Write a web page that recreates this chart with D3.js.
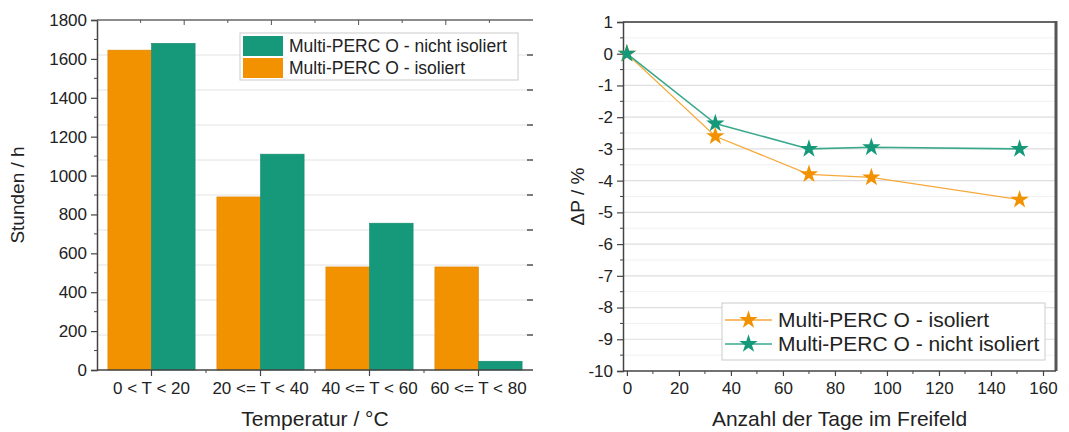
<!DOCTYPE html>
<html><head><meta charset="utf-8">
<script src="https://cdn.jsdelivr.net/npm/d3@7"></script>
<style>
html,body{margin:0;padding:0;background:#fff;}
svg{display:block;font-family:"Liberation Sans",Arial,sans-serif;}
</style></head>
<body>
<svg id="c" width="1069" height="432"></svg>
<script>
// ---------- data ----------
const categories = ["0 < T < 20", "20 <= T < 40", "40 <= T < 60", "60 <= T < 80"];
const hoursIsoliert = [1645, 890, 530, 530];
const hoursNichtIsoliert = [1680, 1110, 755, 45];
const leftYTicks = [0, 200, 400, 600, 800, 1000, 1200, 1400, 1600, 1800];

const days = [0, 34, 70, 94, 151];
const dpIsoliert = [0, -2.6, -3.8, -3.9, -4.6];
const dpNichtIsoliert = [0, -2.2, -3.0, -2.95, -3.0];
const rightXTicks = [0, 20, 40, 60, 80, 100, 120, 140, 160];
const rightYTicks = [1, 0, -1, -2, -3, -4, -5, -6, -7, -8, -9, -10];

const ORANGE = "#f39200", TEAL = "#15997a";
const LINE_OR = "#f6a93a", LINE_TE = "#3aa88c";
const AX = "#444";

const svg = d3.select("#c");

// ================= LEFT CHART =================
const L = {x0: 97, x1: 533, y0: 20, y1: 370};
const xg = d3.scaleBand().domain(categories).range([L.x0, L.x1]).paddingInner(0.2).paddingOuter(0.1);
const xs = d3.scaleBand().domain(["iso", "nicht"]).range([0, xg.bandwidth()]);
const yL = d3.scaleLinear().domain([0, 1800]).range([L.y1, L.y0]);

const gL = svg.append("g");
const gridL = d3.range(180, 1800, 180);
gL.selectAll(".gl").data(gridL).join("line")
  .attr("x1", L.x0).attr("x2", L.x1)
  .attr("y1", d => yL(d)).attr("y2", d => yL(d))
  .attr("stroke", "#e2e2e2").attr("stroke-width", 1);

const series = [
  {key: "iso", vals: hoursIsoliert, color: ORANGE},
  {key: "nicht", vals: hoursNichtIsoliert, color: TEAL}
];
series.forEach(s => {
  gL.selectAll(".b-" + s.key).data(categories).join("rect")
    .attr("x", (c) => xg(c) + xs(s.key))
    .attr("width", xs.bandwidth())
    .attr("y", (c, i) => yL(s.vals[i]))
    .attr("height", (c, i) => yL(0) - yL(s.vals[i]))
    .attr("fill", s.color)
    .attr("stroke", d3.color(s.color).darker(0.3)).attr("stroke-width", 0.6);
});

const yAxisL = d3.axisLeft(yL).tickValues(leftYTicks).tickSize(6).tickPadding(4).tickFormat(d3.format("d"));
const ya = gL.append("g").attr("transform", `translate(${L.x0},0)`).call(yAxisL);
ya.select(".domain").attr("stroke", AX).attr("stroke-width", 1.5);
ya.selectAll(".tick line").attr("stroke", AX).attr("stroke-width", 1.2);
ya.selectAll("text").attr("font-size", 17).attr("fill", "#222").attr("font-family", "Liberation Sans, Arial, sans-serif");
gL.selectAll(".ymin").data(d3.range(100, 1800, 200)).join("line")
  .attr("x1", L.x0 - 3).attr("x2", L.x0).attr("y1", d => yL(d)).attr("y2", d => yL(d))
  .attr("stroke", AX).attr("stroke-width", 1);

const xAxisL = d3.axisBottom(xg).tickSize(6).tickPadding(6);
const xa = gL.append("g").attr("transform", `translate(0,${L.y1})`).call(xAxisL);
xa.select(".domain").attr("stroke", AX).attr("stroke-width", 1.5).attr("d", `M${L.x0},0H${L.x1}`);
xa.selectAll(".tick line").attr("stroke", AX).attr("stroke-width", 1.2);
xa.selectAll("text").attr("font-size", 17).attr("fill", "#222").attr("font-family", "Liberation Sans, Arial, sans-serif");
gL.selectAll(".xmin").data(categories.slice(1)).join("line")
  .attr("x1", c => xg(c) - xg.step() * xg.paddingInner() / 2)
  .attr("x2", c => xg(c) - xg.step() * xg.paddingInner() / 2)
  .attr("y1", L.y1).attr("y2", L.y1 + 3).attr("stroke", AX).attr("stroke-width", 1);

gL.append("line").attr("x1", L.x0).attr("x2", L.x1).attr("y1", L.y0).attr("y2", L.y0)
  .attr("stroke", "#666").attr("stroke-width", 1.5);
gL.selectAll(".tt").data(d3.range(1, 10)).join("line")
  .attr("x1", k => L.x0 + (L.x1 - L.x0) * k / 10).attr("x2", k => L.x0 + (L.x1 - L.x0) * k / 10)
  .attr("y1", L.y0).attr("y2", k => L.y0 + (k % 2 ? 3 : 5)).attr("stroke", "#555").attr("stroke-width", 1);
gL.selectAll(".rt").data(gridL).join("line")
  .attr("x1", L.x1 - 6).attr("x2", L.x1).attr("y1", d => yL(d)).attr("y2", d => yL(d))
  .attr("stroke", "#555").attr("stroke-width", 1.5);

gL.append("text").attr("transform", `translate(24,${(L.y0 + L.y1) / 2}) rotate(-90)`)
  .attr("text-anchor", "middle").attr("font-size", 19).attr("fill", "#222").text("Stunden / h");
gL.append("text").attr("x", (L.x0 + L.x1) / 2).attr("y", 426)
  .attr("text-anchor", "middle").attr("font-size", 21).attr("fill", "#222").text("Temperatur / °C");

const lgL = gL.append("g").attr("transform", "translate(240,33)");
lgL.append("rect").attr("width", 278).attr("height", 47).attr("fill", "#fff").attr("stroke", "#ccc");
const legL = [{label: "Multi-PERC O - nicht isoliert", color: TEAL}, {label: "Multi-PERC O - isoliert", color: ORANGE}];
legL.forEach((d, i) => {
  lgL.append("rect").attr("x", 3).attr("y", 3 + i * 22).attr("width", 40).attr("height", 20).attr("fill", d.color);
  lgL.append("text").attr("x", 49).attr("y", 19 + i * 22).attr("font-size", 17.5).attr("fill", "#222").text(d.label);
});

// ================= RIGHT CHART =================
const R = {x0: 623, x1: 1056, y0: 22, y1: 371};
const xR = d3.scaleLinear().domain([-1.5, 165]).range([R.x0, R.x1]);
const yR = d3.scaleLinear().domain([-10, 1]).range([R.y1, R.y0]);
const gR = svg.append("g");

gR.selectAll(".gmin").data(d3.range(-9.5, 1, 1)).join("line")
  .attr("x1", R.x0).attr("x2", R.x1).attr("y1", d => yR(d)).attr("y2", d => yR(d))
  .attr("stroke", "#f1f1f1").attr("stroke-width", 1);
gR.selectAll(".gmaj").data(d3.range(-9, 1, 1)).join("line")
  .attr("x1", R.x0).attr("x2", R.x1).attr("y1", d => yR(d)).attr("y2", d => yR(d))
  .attr("stroke", "#dedede").attr("stroke-width", 1.2);

gR.append("line").attr("x1", R.x0).attr("x2", R.x1).attr("y1", R.y0).attr("y2", R.y0)
  .attr("stroke", "#666").attr("stroke-width", 2);
gR.append("line").attr("x1", R.x1).attr("x2", R.x1).attr("y1", R.y0 - 1).attr("y2", R.y1)
  .attr("stroke", "#555").attr("stroke-width", 3);

const yAxisR = d3.axisLeft(yR).tickValues(rightYTicks).tickSize(6).tickPadding(4).tickFormat(d => String(d).replace("−", "-"));
const yra = gR.append("g").attr("transform", `translate(${R.x0},0)`).call(yAxisR);
yra.select(".domain").attr("stroke", AX).attr("stroke-width", 1.5);
yra.selectAll(".tick line").attr("stroke", AX).attr("stroke-width", 1.2);
yra.selectAll("text").attr("font-size", 17).attr("fill", "#222").attr("font-family", "Liberation Sans, Arial, sans-serif");
gR.selectAll(".yrmin").data(d3.range(-9.5, 1, 1)).join("line")
  .attr("x1", R.x0 - 3).attr("x2", R.x0).attr("y1", d => yR(d)).attr("y2", d => yR(d))
  .attr("stroke", AX).attr("stroke-width", 1);

const xAxisR = d3.axisBottom(xR).tickValues(rightXTicks).tickSize(5).tickPadding(6).tickFormat(d3.format("d"));
const xra = gR.append("g").attr("transform", `translate(0,${R.y1})`).call(xAxisR);
xra.select(".domain").attr("stroke", AX).attr("stroke-width", 1.5).attr("d", `M${R.x0},0H${R.x1}`);
xra.selectAll(".tick line").attr("stroke", AX).attr("stroke-width", 1.2);
xra.selectAll("text").attr("font-size", 17).attr("fill", "#222").attr("font-family", "Liberation Sans, Arial, sans-serif");
gR.selectAll(".xrmin").data(d3.range(10, 165, 20)).join("line")
  .attr("x1", d => xR(d)).attr("x2", d => xR(d)).attr("y1", R.y1).attr("y2", R.y1 + 3)
  .attr("stroke", AX).attr("stroke-width", 1);

const star = d3.symbol().type(d3.symbolStar).size(105);
const lineGen = d3.line().x(d => xR(d[0])).y(d => yR(d[1]));
const rs = [
  {vals: dpIsoliert, color: ORANGE, line: LINE_OR, w: 1.2},
  {vals: dpNichtIsoliert, color: TEAL, line: LINE_TE, w: 1.6}
];
rs.forEach(s => {
  const pts = days.map((d, i) => [d, s.vals[i]]);
  gR.append("path").attr("d", lineGen(pts)).attr("fill", "none").attr("stroke", s.line).attr("stroke-width", s.w);
});
rs.forEach(s => {
  const pts = days.map((d, i) => [d, s.vals[i]]);
  gR.selectAll(null).data(pts).join("path")
    .attr("d", star).attr("transform", d => `translate(${xR(d[0])},${yR(d[1])})`)
    .attr("fill", s.color);
});

gR.append("text").attr("transform", `translate(584,${(R.y0 + R.y1) / 2}) rotate(-90)`)
  .attr("text-anchor", "middle").attr("font-size", 19).attr("fill", "#222").text("ΔP / %");
gR.append("text").attr("x", (R.x0 + R.x1) / 2).attr("y", 426)
  .attr("text-anchor", "middle").attr("font-size", 21).attr("fill", "#222").text("Anzahl der Tage im Freifeld");

const lgR = gR.append("g").attr("transform", "translate(722,303)");
lgR.append("rect").attr("width", 323).attr("height", 57).attr("fill", "#fff").attr("stroke", "#ccc");
const legR = [{label: "Multi-PERC O - isoliert", color: ORANGE, line: LINE_OR}, {label: "Multi-PERC O - nicht isoliert", color: TEAL, line: LINE_TE}];
legR.forEach((d, i) => {
  const cy = 17 + i * 24;
  lgR.append("line").attr("x1", 3).attr("x2", 50).attr("y1", cy).attr("y2", cy).attr("stroke", d.line).attr("stroke-width", 1.5);
  lgR.append("path").attr("d", star).attr("transform", `translate(26.5,${cy})`).attr("fill", d.color);
  lgR.append("text").attr("x", 56).attr("y", cy + 7).attr("font-size", 21).attr("fill", "#222").text(d.label);
});
</script>
</body></html>
